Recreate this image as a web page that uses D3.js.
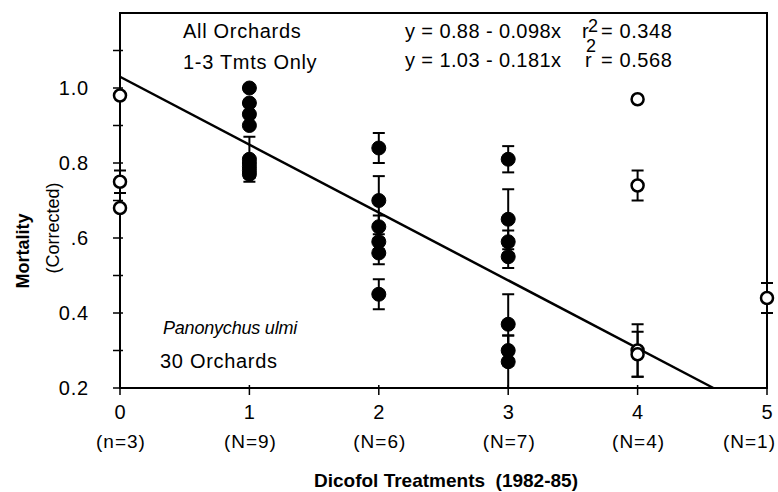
<!DOCTYPE html>
<html>
<head>
<meta charset="utf-8">
<script src="https://cdn.jsdelivr.net/npm/d3@7"></script>
<style>
  body { margin: 0; background: #fff; }
  text { font-family: "Liberation Sans", Arial, sans-serif; fill: #000; }
</style>
</head>
<body>
<svg id="chart" width="778" height="492"></svg>
<script>
// treatments on the x axis and the sample sizes under them
const treatments = [0, 1, 2, 3, 4, 5];
const nLabels = ["(n=3)", "(N=9)", "(N=6)", "(N=7)", "(N=4)", "(N=1)"];

const yTicks = [0.2, 0.4, 0.6, 0.8, 1.0];
const yTickLabels = ["0.2", "0.4", ".6", "0.8", "1.0"];
const yMinor = [0.3, 0.5, 0.7, 0.9, 1.1];

// orchard mortality points (x = number of dicofol treatments)
const ptX   = [0, 0, 0,
               1, 1, 1, 1, 1, 1, 1, 1, 1,
               2, 2, 2, 2, 2, 2,
               3, 3, 3, 3, 3, 3, 3,
               4, 4, 4, 4,
               5];
const ptY   = [0.98, 0.75, 0.68,
               1.00, 0.96, 0.93, 0.90, 0.81, 0.80, 0.79, 0.78, 0.77,
               0.84, 0.70, 0.63, 0.59, 0.56, 0.45,
               0.81, 0.65, 0.59, 0.55, 0.37, 0.30, 0.27,
               0.97, 0.74, 0.30, 0.29,
               0.44];
const ptErr = [0, 0.03, 0,
               0, 0, 0, 0, 0.06, 0, 0.02, 0, 0.01,
               0.04, 0.065, 0.03, 0.02, 0.03, 0.04,
               0.035, 0.08, 0.03, 0.03, 0.08, 0.04, 0.07,
               0, 0.04, 0.07, 0.06,
               0.04];
// 1-3 treatments are drawn filled, the rest open
const filledX = [1, 2, 3];

// regression for 1-3 treatments
const regIntercept = 1.03;
const regSlope = -0.181;

const svg = d3.select('#chart');

const x = d3.scaleLinear().domain([0, 5]).range([120, 767]);
const y = d3.scaleLinear().domain([0.2, 1.2]).range([388, 13]);

function label(px, py, txt, size, spacing) {
  return svg.append("text")
    .attr("x", px)
    .attr("y", py)
    .attr("xml:space", "preserve")
    .style("font-size", size + "px")
    .style("letter-spacing", (spacing || 0) + "px")
    .text(txt);
}

// frame
svg.append("rect")
  .attr("x", 120)
  .attr("y", 13)
  .attr("width", 647)
  .attr("height", 375)
  .style("fill", "none")
  .style("stroke", "black")
  .style("stroke-width", 2);

// y ticks
svg.selectAll(".ytick")
  .data(yTicks.concat(yMinor))
  .enter().append("line")
  .attr("x1", 113)
  .attr("x2", 123)
  .attr("y1", d => y(d))
  .attr("y2", d => y(d))
  .style("stroke", "black")
  .style("stroke-width", 1.5);

svg.selectAll(".ylab")
  .data(yTicks)
  .enter().append("text")
  .attr("x", 89)
  .attr("y", d => y(d) + 7)
  .attr("text-anchor", "end")
  .style("font-size", "20px")
  .style("letter-spacing", "0.8px")
  .text((d, i) => yTickLabels[i]);

// x ticks
svg.selectAll(".xtick")
  .data(treatments)
  .enter().append("line")
  .attr("x1", d => x(d))
  .attr("x2", d => x(d))
  .attr("y1", 385)
  .attr("y2", 395)
  .style("stroke", "black")
  .style("stroke-width", 1.5);

svg.selectAll(".xlab")
  .data(treatments)
  .enter().append("text")
  .attr("x", d => x(d))
  .attr("y", 419)
  .attr("text-anchor", "middle")
  .style("font-size", "20px")
  .text(d => d);

// last sample size sits against the right edge
svg.selectAll(".nlab")
  .data(treatments)
  .enter().append("text")
  .attr("x", d => d === 5 ? 776 : x(d) + 1)
  .attr("y", 448)
  .attr("text-anchor", d => d === 5 ? "end" : "middle")
  .style("font-size", "19px")
  .style("letter-spacing", "1px")
  .text((d, i) => nLabels[i]);

// axis titles
svg.append("text")
  .attr("x", 446)
  .attr("y", 487)
  .attr("text-anchor", "middle")
  .style("font-size", "19px")
  .style("font-weight", "bold")
  .attr("xml:space", "preserve")
  .text("Dicofol Treatments  (1982-85)");

svg.append("text")
  .attr("transform", "translate(29,251) rotate(-90)")
  .attr("text-anchor", "middle")
  .style("font-size", "18px")
  .style("font-weight", "bold")
  .text("Mortality");

svg.append("text")
  .attr("transform", "translate(59,228) rotate(-90)")
  .attr("text-anchor", "middle")
  .style("font-size", "18px")
  .text("(Corrected)");

// regression line, stops at the bottom of the frame
const xEnd = (0.2 - regIntercept) / regSlope;
svg.append("line")
  .attr("x1", x(0))
  .attr("y1", y(regIntercept))
  .attr("x2", x(xEnd))
  .attr("y2", y(0.2))
  .style("stroke", "black")
  .style("stroke-width", 2.5);

// error bars
const pts = ptX.map((d, i) => ({x: d, y: ptY[i], e: ptErr[i]}));
const withErr = pts.filter(d => d.e > 0);

svg.selectAll(".ebar")
  .data(withErr)
  .enter().append("line")
  .attr("x1", d => x(d.x))
  .attr("x2", d => x(d.x))
  .attr("y1", d => y(d.y + d.e))
  .attr("y2", d => y(Math.max(0.2, d.y - d.e)))
  .style("stroke", "black")
  .style("stroke-width", 2);

svg.selectAll(".ecapTop")
  .data(withErr)
  .enter().append("line")
  .attr("x1", d => x(d.x) - 6)
  .attr("x2", d => x(d.x) + 6)
  .attr("y1", d => y(d.y + d.e))
  .attr("y2", d => y(d.y + d.e))
  .style("stroke", "black")
  .style("stroke-width", 2);

svg.selectAll(".ecapBot")
  .data(withErr.filter(d => d.y - d.e > 0.2))
  .enter().append("line")
  .attr("x1", d => x(d.x) - 6)
  .attr("x2", d => x(d.x) + 6)
  .attr("y1", d => y(d.y - d.e))
  .attr("y2", d => y(d.y - d.e))
  .style("stroke", "black")
  .style("stroke-width", 2);

// points
svg.selectAll(".pt")
  .data(pts)
  .enter().append("circle")
  .attr("cx", d => x(d.x))
  .attr("cy", d => y(d.y))
  .attr("r", d => filledX.includes(d.x) ? 7 : 6)
  .style("fill", d => filledX.includes(d.x) ? "black" : "white")
  .style("stroke", "black")
  .style("stroke-width", d => filledX.includes(d.x) ? 1 : 2.5);

// annotations
label(183, 38, "All Orchards", 20, 0.7);
label(183, 69, "1-3 Tmts Only", 20, 0.7);

label(405, 38, "y = 0.88 - 0.098x", 20, 0.4);
label(582, 38, "r", 20);
label(588, 32, "2", 18);
label(601, 38, "= 0.348", 20, 0.6);

label(405, 67, "y = 1.03 - 0.181x", 20, 0.4);
label(585, 67, "r", 20);
label(586, 52, "2", 18);
label(601, 67, "= 0.568", 20, 0.6);

label(163, 334, "Panonychus ulmi", 18, -0.2).style("font-style", "italic");
label(160, 368, "30 Orchards", 20, 0.7);
</script>
</body>
</html>
